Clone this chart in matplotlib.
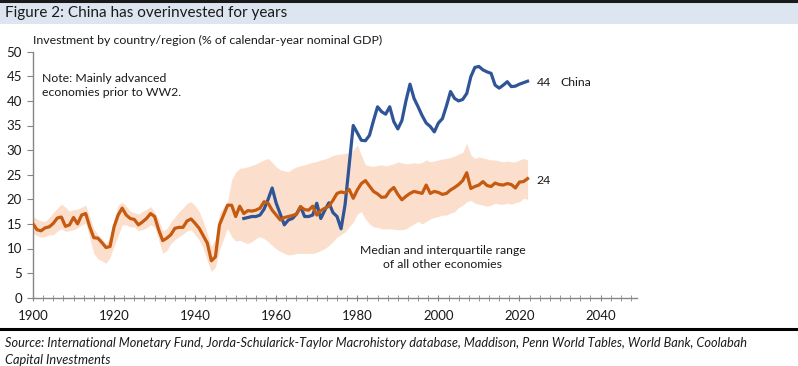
import numpy as np
import matplotlib
matplotlib.use("Agg")
import matplotlib.pyplot as plt
from matplotlib.patches import Rectangle
from matplotlib.lines import Line2D
from matplotlib.ticker import MultipleLocator

plt.rcParams["font.family"] = ["Lato", "DejaVu Sans"]

# ── data ──────────────────────────────────────────────────────────────────────
years_all = np.arange(1900, 2023)
median = [
    15.0, 13.8, 13.6, 14.2, 14.4, 15.1, 16.2, 16.4, 14.5, 14.8,   # 1900s
    16.3, 15.0, 16.8, 17.1, 14.4, 12.2, 12.1, 11.2, 10.2, 10.4,   # 1910s
    14.4, 16.8, 18.2, 16.8, 16.1, 15.9, 14.8, 15.4, 16.1, 17.1,   # 1920s
    16.5, 13.8, 11.6, 12.1, 12.8, 14.1, 14.3, 14.3, 15.6, 16.0,   # 1930s
    15.1, 14.1, 12.6, 11.1, 7.5, 8.3, 14.8, 16.8, 18.8, 18.8,     # 1940s
    16.5, 18.6, 17.1, 17.7, 17.6, 17.8, 18.2, 19.5, 19.2, 17.8,   # 1950s
    16.8, 15.8, 16.3, 16.5, 16.7, 17.0, 18.5, 17.9, 17.8, 18.6,   # 1960s
    16.8, 17.7, 18.2, 18.6, 19.8, 21.2, 21.5, 21.3, 22.0, 20.2,   # 1970s
    21.9, 23.2, 23.8, 22.7, 21.6, 21.1, 20.4, 20.5, 21.7, 22.4,   # 1980s
    21.0, 19.9, 20.6, 21.2, 21.6, 21.4, 21.2, 22.9, 21.2, 21.6,   # 1990s
    21.4, 21.0, 21.2, 21.9, 22.4, 23.0, 23.8, 25.4, 22.2, 22.6,   # 2000s
    22.9, 23.6, 22.8, 22.6, 23.3, 23.0, 22.9, 23.2, 23.0, 22.3,   # 2010s
    23.5, 23.6, 24.2,                                             # 2020s
]
iqr_upper = [
    16.5, 16.0, 15.6, 15.5, 16.3, 17.3, 18.2, 19.0, 18.4, 17.6,
    17.9, 18.0, 18.4, 18.8, 16.5, 14.0, 12.8, 12.0, 11.0, 12.5,
    16.0, 18.8, 19.4, 18.6, 17.6, 17.3, 17.0, 17.5, 18.0, 18.5,
    17.5, 15.8, 13.6, 14.0, 15.4, 16.4, 17.5, 18.2, 19.2, 19.5,
    18.7, 17.5, 15.5, 13.0, 10.4, 12.0, 17.1, 18.5, 19.5, 24.0,
    25.5, 26.3, 26.4, 26.6, 26.9, 27.2, 27.6, 28.0, 28.3, 27.5,
    26.6, 26.0, 25.8, 25.6, 26.2, 26.6, 26.8, 27.0, 27.3, 27.5,
    27.7, 28.0, 28.2, 28.5, 28.9, 29.1, 29.2, 29.3, 29.5, 30.0,
    31.0, 29.0, 27.0, 26.8, 26.7, 26.9, 27.0, 26.8, 27.0, 27.2,
    27.6, 27.4, 27.2, 27.3, 27.4, 27.3, 27.5, 28.0, 27.6, 27.8,
    28.0, 28.2, 28.3, 28.5, 28.8, 29.2, 29.5, 31.4, 29.0, 28.3,
    28.6, 28.4, 28.2, 28.0, 28.0, 27.8, 27.6, 27.8, 27.6, 27.6,
    28.0, 28.3, 28.0,
]
iqr_lower = [
    13.1, 12.6, 12.3, 12.4, 12.8, 12.8, 13.5, 14.0, 13.5, 13.6,
    13.8, 14.2, 14.8, 15.1, 12.1, 9.0, 7.9, 7.5, 7.0, 8.2,
    10.5, 12.6, 14.8, 14.8, 14.4, 14.4, 13.6, 13.8, 14.2, 14.8,
    14.4, 11.7, 9.0, 9.6, 11.0, 11.8, 12.4, 12.9, 13.6, 13.8,
    12.8, 11.7, 10.0, 7.5, 5.3, 6.2, 9.7, 12.0, 14.1, 12.4,
    11.5, 11.7, 11.3, 11.0, 11.4, 12.0, 12.4, 12.0, 11.4, 10.6,
    9.9, 9.4, 9.0, 8.7, 8.8, 9.0, 9.0, 9.0, 9.0, 9.0,
    9.2, 9.6, 10.0, 10.6, 11.4, 12.3, 12.8, 13.4, 14.4, 15.4,
    17.0, 17.5, 16.0, 15.0, 14.4, 14.3, 14.0, 14.0, 14.0, 13.9,
    13.8, 13.8, 14.0, 14.5, 15.0, 15.5, 15.0, 15.5, 16.0, 16.3,
    16.5, 16.8, 16.8, 17.2, 17.5, 18.3, 18.8, 19.5, 19.8, 19.2,
    19.0, 18.8, 18.6, 18.8, 19.2, 19.0, 19.0, 19.2, 19.0, 19.3,
    19.5, 20.2, 20.0,
]

years_china = np.arange(1952, 2023)
china = [
    16.1, 16.3, 16.5, 16.5, 16.8, 18.0, 20.0, 22.3,               # 1952-59
    19.2, 17.0, 14.8, 15.8, 16.1, 17.0, 18.5, 16.5, 16.5, 16.8,   # 1960s
    19.2, 16.1, 17.8, 19.3, 17.3, 16.5, 14.0, 19.0, 27.0, 35.0,   # 1970s
    33.5, 32.0, 31.9, 33.0, 36.0, 38.8, 37.8, 37.3, 38.8, 35.8,   # 1980s
    34.3, 36.0, 40.0, 43.4, 40.5, 38.8, 37.0, 35.5, 34.8, 33.7,   # 1990s
    35.5, 36.4, 39.0, 41.9, 40.5, 40.0, 40.3, 41.5, 44.9, 46.8,   # 2000s
    47.0, 46.3, 45.9, 45.6, 43.2, 42.6, 43.2, 43.9, 42.9, 43.0,   # 2010s
    43.4, 43.7, 44.0,                                             # 2020s
]

BLUE = "#2F5597"
ORANGE = "#C55A11"
BAND = "#FBDFCC"
AXIS = "#868686"
TXT = "#1a1a1a"

# ── figure ────────────────────────────────────────────────────────────────────
W, H = 798, 366
fig = plt.figure(figsize=(W / 100, H / 100), dpi=100)

def fx(px):
    return px / W

def fy(py):
    return 1 - py / H

# title band + rules
fig.patches.append(Rectangle((0, fy(24)), 1, fy(3) - fy(24), transform=fig.transFigure,
                             facecolor="#DDE5F0", edgecolor="none", zorder=0))
fig.add_artist(Line2D([0, 1], [fy(1.2), fy(1.2)], transform=fig.transFigure,
                      color=TXT, lw=2.2))
fig.add_artist(Line2D([0, 1], [fy(328.5), fy(328.5)], transform=fig.transFigure,
                      color="#000000", lw=2.2))
fig.text(fx(5), fy(13.5), "Figure 2: China has overinvested for years",
         fontsize=11, va="center", ha="left", color=TXT)

ax = fig.add_axes([fx(33), fy(297.7), fx(637) - fx(33), fy(51.7) - fy(297.7)])

ax.fill_between(years_all, iqr_lower, iqr_upper, color=BAND, lw=0, zorder=1)
ax.plot(years_all, median, color=ORANGE, lw=2.3, zorder=3, solid_joinstyle="round")
ax.plot(years_china, china, color=BLUE, lw=2.3, zorder=2, solid_joinstyle="round")

ax.set_xlim(1900, 2049)
ax.set_ylim(0, 50)
ax.xaxis.set_major_locator(MultipleLocator(20))
ax.xaxis.set_minor_locator(MultipleLocator(2.5))
ax.yaxis.set_major_locator(MultipleLocator(5))

for s in ("top", "right"):
    ax.spines[s].set_visible(False)
for s in ("left", "bottom"):
    ax.spines[s].set_color(AXIS)
    ax.spines[s].set_linewidth(1.0)

ax.tick_params(axis="x", which="both", direction="inout", length=5, color=AXIS,
               labelsize=9.5, labelcolor=TXT, pad=6)
ax.tick_params(axis="y", which="major", direction="out", length=4, color=AXIS,
               labelsize=9.5, labelcolor=TXT, pad=4)

# texts
fig.text(fx(33), fy(40), "Investment by country/region (% of calendar-year nominal GDP)",
         fontsize=8.9, va="center", ha="left", color=TXT)
ax.text(1902.2, 43.1, "Note: Mainly advanced\neconomies prior to WW2.", fontsize=8.8,
        va="center", ha="left", color=TXT, linespacing=1.35)
ax.text(2024.2, 43.8, "44", fontsize=8.8, va="center", ha="left", color=TXT)
ax.text(2030.0, 43.8, "China", fontsize=8.8, va="center", ha="left", color=TXT)
ax.text(2024.2, 23.9, "24", fontsize=8.8, va="center", ha="left", color=TXT)
ax.text(2001.0, 8.2, "Median and interquartile range\nof all other economies", fontsize=8.8,
        va="center", ha="center", color=TXT, linespacing=1.35)

fig.text(fx(5), fy(343), "Source: International Monetary Fund, Jorda-Schularick-Taylor "
         "Macrohistory database, Maddison, Penn World Tables, World Bank, Coolabah",
         fontsize=9.2, style="italic", va="center", ha="left", color=TXT)
fig.text(fx(5), fy(360), "Capital Investments", fontsize=9.2, style="italic",
         va="center", ha="left", color=TXT)

fig.savefig("out.png", dpi=100, facecolor="white")
